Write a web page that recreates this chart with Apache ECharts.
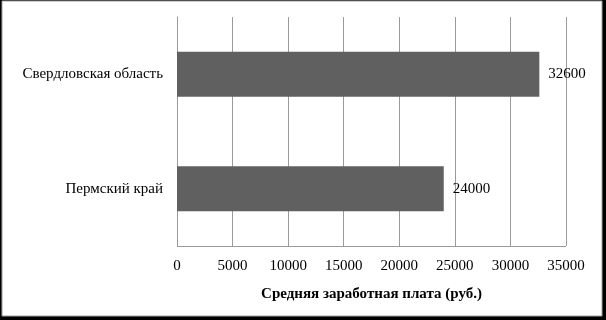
<!DOCTYPE html>
<html><head><meta charset="utf-8">
<script src="https://cdn.jsdelivr.net/npm/echarts@6/dist/echarts.min.js"></script>
<style>html,body{margin:0;padding:0;background:#fff}#c{width:606px;height:320px}</style>
</head><body><div id="c"></div>
<script>
const categories = ['Свердловская область', 'Пермский край'];
const values = [32600, 24000];
const axisTitle = 'Средняя заработная плата (руб.)';

const chart = echarts.init(document.getElementById('c'), null, {renderer: 'canvas'});
const font = '"Liberation Serif", "Times New Roman", serif';
chart.setOption({
  animation: false,
  backgroundColor: '#000',
  graphic: [{
    type: 'rect', z: -1, silent: true,
    shape: {x: 2, y: 1, width: 600, height: 315},
    style: {fill: '#fff', stroke: '#a0a0a0', lineWidth: 1}
  }, {
    type: 'line', silent: true,
    shape: {x1: 177, y1: 246.5, x2: 566, y2: 246.5},
    style: {stroke: '#9a9a9a', lineWidth: 1}
  }],
  grid: {left: 177, right: 40, top: 17, bottom: 74},
  xAxis: {
    type: 'value', min: 0, max: 35000, interval: 5000,
    axisLine: {show: false}, axisTick: {show: false},
    splitLine: {show: true, lineStyle: {color: '#9a9a9a', width: 1}},
    axisLabel: {color: '#000', fontFamily: font, fontSize: 15, margin: 13, formatter: v => String(v)},
    name: axisTitle, nameLocation: 'middle', nameGap: 41,
    nameTextStyle: {color: '#000', fontFamily: font, fontSize: 15, fontWeight: 'bold'}
  },
  yAxis: {
    type: 'category', data: categories, inverse: true,
    axisLine: {show: true, lineStyle: {color: '#9a9a9a'}},
    axisTick: {show: false},
    axisLabel: {color: '#000', fontFamily: font, fontSize: 15, margin: 14}
  },
  series: [{
    type: 'bar', data: values, barWidth: 45,
    itemStyle: {color: '#606060'},
    label: {show: true, position: 'right', distance: 9, color: '#000', fontFamily: font, fontSize: 15}
  }]
});
</script></body></html>
